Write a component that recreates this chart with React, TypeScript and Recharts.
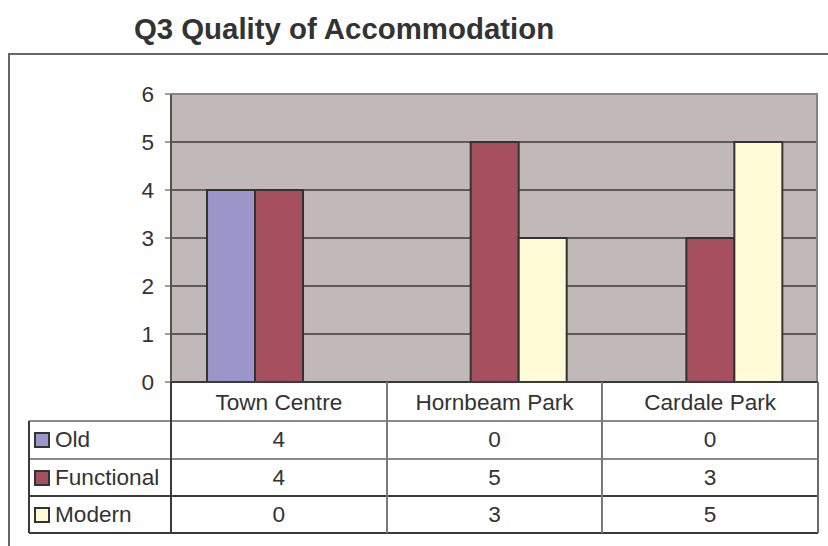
import { BarChart, Bar, XAxis, YAxis, CartesianGrid } from "recharts";

const categories = ["Town Centre", "Hornbeam Park", "Cardale Park"];
const oldValues = [4, 0, 0];
const functionalValues = [4, 5, 3];
const modernValues = [0, 3, 5];
const yTicks = [0, 1, 2, 3, 4, 5, 6];

const series = [
  { key: "old", name: "Old", color: "#9C95C9", values: oldValues },
  { key: "functional", name: "Functional", color: "#A64F5F", values: functionalValues },
  { key: "modern", name: "Modern", color: "#FFFBD6", values: modernValues },
];

const data = categories.map((name, i) => ({
  name,
  old: oldValues[i],
  functional: functionalValues[i],
  modern: modernValues[i],
}));

const FONT = '"Liberation Sans", Arial, sans-serif';
const TXT = 22.6;
const W = 828;
const H = 546;
const PLOT_L = 171;
const PLOT_R = 818;
const PLOT_T = 94;
const PLOT_B = 382;
const TABLE_L = 29;
const ROWS = [382, 421, 459, 496, 533];
const Y_AXIS_W = 60;
const X_AXIS_H = 39;

function CategoryTick(props: any) {
  const { x, payload } = props;
  return (
    <text x={x} y={PLOT_B + (ROWS[1] - ROWS[0]) / 2} dy="0.355em" textAnchor="middle" fontSize={TXT} fill="#333" fontFamily={FONT}>
      {payload.value}
    </text>
  );
}

function line(style: React.CSSProperties, key: string) {
  return <div key={key} style={{ position: "absolute", ...style }} />;
}

export default function App() {
  const colW = (PLOT_R - PLOT_L) / categories.length;
  const lines: React.ReactNode[] = [];
  // horizontal table lines
  ROWS.slice(1).forEach((y, i) => {
    lines.push(line({ left: TABLE_L, top: y - 1, width: PLOT_R - TABLE_L, height: 2, background: i < 2 ? "#8a8a8a" : "#3a3a3a" }, "h" + i));
  });
  // vertical table lines
  lines.push(line({ left: TABLE_L - 1, top: ROWS[1], width: 2, height: ROWS[4] - ROWS[1], background: "#3a3a3a" }, "vl"));
  lines.push(line({ left: PLOT_L - 1, top: ROWS[0], width: 2, height: ROWS[4] - ROWS[0], background: "#3a3a3a" }, "v0"));
  for (let i = 1; i < categories.length; i++) {
    lines.push(line({ left: PLOT_L + colW * i - 1, top: ROWS[0], width: 2, height: ROWS[4] - ROWS[0], background: "#7a7a7a" }, "v" + i));
  }
  lines.push(line({ left: PLOT_R - 1, top: ROWS[0], width: 2, height: ROWS[4] - ROWS[0], background: "#6a6a6a" }, "vr"));

  return (
    <div style={{ position: "absolute", left: 0, top: 0, width: W, height: H, overflow: "hidden", background: "#fff", fontFamily: FONT }}>
      <div style={{ position: "absolute", left: 8, top: 53, width: W + 20, height: H, border: "2px solid #666" }} />
      <div style={{ position: "absolute", left: 0, top: 12, width: 688, textAlign: "center", fontSize: 29.4, fontWeight: "bold", color: "#333" }}>
        Q3 Quality of Accommodation
      </div>
      <div style={{ position: "absolute", left: 0, top: 0 }}>
        <BarChart
          width={W}
          height={H}
          data={data}
          margin={{ top: PLOT_T, right: W - PLOT_R, left: PLOT_L - Y_AXIS_W, bottom: H - PLOT_B - X_AXIS_H }}
          barCategoryGap="16.7%"
          barGap={0}
        >
          <CartesianGrid vertical={false} fill="#C1B9B7" fillOpacity={1} stroke="#3c3c3c" strokeWidth={1.5} />
          <XAxis dataKey="name" height={X_AXIS_H} tickLine={false} axisLine={{ stroke: "#3a3a3a", strokeWidth: 2 }} tick={<CategoryTick />} interval={0} />
          <YAxis
            width={Y_AXIS_W}
            domain={[0, 6]}
            ticks={yTicks}
            interval={0}
            tickSize={6}
            tickMargin={11}
            axisLine={{ stroke: "#5a5050", strokeWidth: 2 }}
            tickLine={{ stroke: "#444" }}
            tick={{ fontSize: TXT, fill: "#333", fontFamily: FONT }}
          />
          {series.map((s) => (
            <Bar key={s.key} dataKey={s.key} name={s.name} fill={s.color} stroke="#333" strokeWidth={2} isAnimationActive={false} />
          ))}
        </BarChart>
      </div>
      <div style={{ position: "absolute", left: PLOT_L, top: PLOT_T - 1, width: PLOT_R - PLOT_L, height: PLOT_B - PLOT_T, borderTop: "2px solid #8c8282", borderRight: "2px solid #8c8282", boxSizing: "border-box", pointerEvents: "none" }} />
      {lines}
      {series.map((s, r) => {
        const top = ROWS[r + 1];
        const h = ROWS[r + 2] - ROWS[r + 1];
        return (
          <div key={s.key}>
            <div style={{ position: "absolute", left: 34, top: top + h / 2 - 8, width: 12, height: 12, background: s.color, border: "2px solid #333" }} />
            <div style={{ position: "absolute", left: 55, top, height: h, lineHeight: h + "px", fontSize: TXT, color: "#333" }}>{s.name}</div>
            {s.values.map((v, i) => (
              <div key={i} style={{ position: "absolute", left: PLOT_L + colW * i, top, width: colW, height: h, lineHeight: h + "px", textAlign: "center", fontSize: TXT, color: "#333" }}>
                {v}
              </div>
            ))}
          </div>
        );
      })}
    </div>
  );
}
